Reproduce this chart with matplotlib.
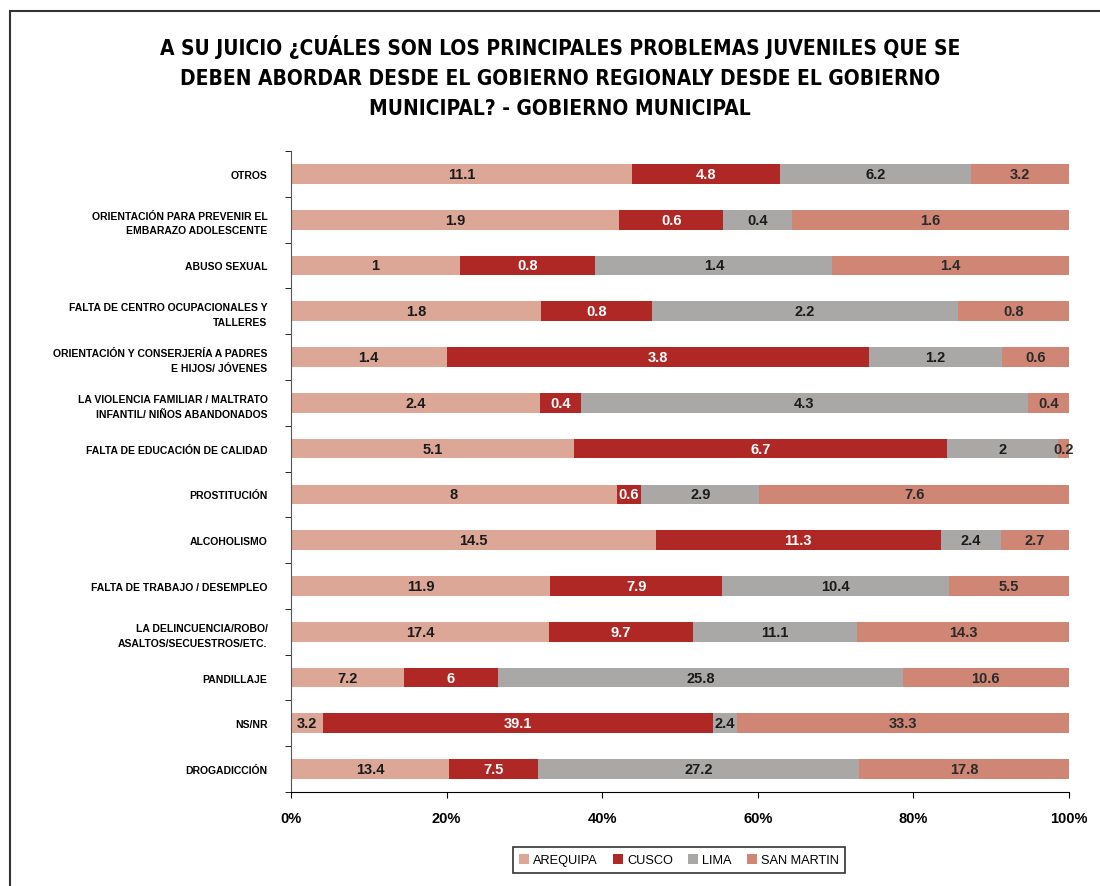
import matplotlib.pyplot as plt
import numpy as np
from matplotlib.patches import Rectangle

plt.rcParams["font.family"] = ["Liberation Sans", "DejaVu Sans"]

categories = [
    "OTROS",
    "ORIENTACIÓN PARA PREVENIR EL\nEMBARAZO ADOLESCENTE",
    "ABUSO SEXUAL",
    "FALTA DE CENTRO OCUPACIONALES Y\nTALLERES",
    "ORIENTACIÓN Y CONSERJERÍA A PADRES\nE HIJOS/ JÓVENES",
    "LA VIOLENCIA FAMILIAR / MALTRATO\nINFANTIL/ NIÑOS ABANDONADOS",
    "FALTA DE EDUCACIÓN DE CALIDAD",
    "PROSTITUCIÓN",
    "ALCOHOLISMO",
    "FALTA DE TRABAJO / DESEMPLEO",
    "LA DELINCUENCIA/ROBO/\nASALTOS/SECUESTROS/ETC.",
    "PANDILLAJE",
    "NS/NR",
    "DROGADICCIÓN",
]
arequipa = [11.1, 1.9, 1, 1.8, 1.4, 2.4, 5.1, 8, 14.5, 11.9, 17.4, 7.2, 3.2, 13.4]
cusco = [4.8, 0.6, 0.8, 0.8, 3.8, 0.4, 6.7, 0.6, 11.3, 7.9, 9.7, 6, 39.1, 7.5]
lima = [6.2, 0.4, 1.4, 2.2, 1.2, 4.3, 2, 2.9, 2.4, 10.4, 11.1, 25.8, 2.4, 27.2]
san_martin = [3.2, 1.6, 1.4, 0.8, 0.6, 0.4, 0.2, 7.6, 2.7, 5.5, 14.3, 10.6, 33.3, 17.8]

series = {
    "AREQUIPA": (arequipa, "#DCA796", "#1a1a1a"),
    "CUSCO": (cusco, "#B02826", "white"),
    "LIMA": (lima, "#A9A8A7", "#1a1a1a"),
    "SAN MARTIN": (san_martin, "#CF8675", "#2a2a2a"),
}

title = ("A SU JUICIO ¿CUÁLES SON LOS PRINCIPALES PROBLEMAS JUVENILES QUE SE\n"
         "DEBEN ABORDAR DESDE EL GOBIERNO REGIONALY DESDE EL GOBIERNO\n"
         "MUNICIPAL? - GOBIERNO MUNICIPAL")

fig = plt.figure(figsize=(11, 8.87), dpi=100)
ax = fig.add_axes([291 / 1100, 1 - 793 / 887, 778 / 1100, (793 - 152) / 887])

totals = np.array(arequipa) + np.array(cusco) + np.array(lima) + np.array(san_martin)
y = np.arange(len(categories))
left = np.zeros(len(categories))
for name, (vals, color, tcolor) in series.items():
    vals = np.array(vals, dtype=float)
    w = vals / totals
    ax.barh(y, w, left=left, height=0.43, color=color, label=name)
    for yi, li, wi, v in zip(y, left, w, vals):
        ax.text(li + wi / 2, yi, f"{v:g}", ha="center", va="center",
                fontsize=10.5, fontweight="bold", color=tcolor)
    left += w

ax.set_ylim(len(categories) - 0.5, -0.5)
ax.set_xlim(0, 1)
ax.set_yticks(y)
ax.set_yticklabels(categories, fontsize=7.5, fontweight="bold", linespacing=1.6)
ax.set_yticks(np.arange(-0.5, len(categories)), minor=True)
ax.tick_params(axis="y", which="major", length=0, pad=17)
ax.tick_params(axis="y", which="minor", length=4, direction="out")
ax.set_xticks([0, 0.2, 0.4, 0.6, 0.8, 1.0])
ax.set_xticklabels(["0%", "20%", "40%", "60%", "80%", "100%"],
                   fontsize=10.5, fontweight="bold")
ax.tick_params(axis="x", length=4, pad=10)
for s in ["top", "right"]:
    ax.spines[s].set_visible(False)
ax.spines["left"].set_color("#555555")

fig.text(560 / 1100, 1 - 77 / 887, title, ha="center", va="center",
         fontsize=15, fontweight="bold", linespacing=1.6, fontstretch="condensed",
         family=["DejaVu Sans"])

leg = fig.legend(loc="center", bbox_to_anchor=(679 / 1100, 1 - 861 / 887),
                 ncol=4, frameon=True, fancybox=False, fontsize=9.2,
                 handlelength=0.8, handleheight=0.8, handletextpad=0.3,
                 columnspacing=1.2, borderpad=0.5)
leg.get_frame().set_edgecolor("black")
leg.get_frame().set_linewidth(1.2)

fig.patches.append(Rectangle((10 / 1100, -0.1), 1.2, 1 - 12 / 887 + 0.1,
                             transform=fig.transFigure, fill=False,
                             edgecolor="#333333", linewidth=1.5))

fig.savefig("out.png", dpi=100)
